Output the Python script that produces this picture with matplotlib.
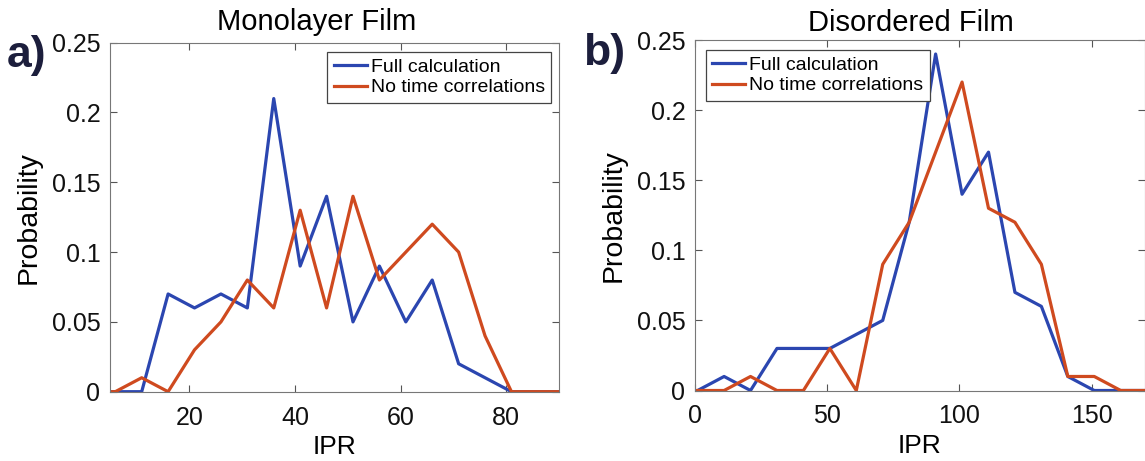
import matplotlib
matplotlib.use("Agg")
import matplotlib.pyplot as plt
from matplotlib.ticker import FuncFormatter

plt.rcParams['font.family'] = ['Liberation Sans', 'DejaVu Sans']

# ---- data ----
ipr_a = [1, 6, 11, 16, 21, 26, 31, 36, 41, 46, 51, 56, 61, 66, 71, 76, 81, 86, 91]
full_a = [0, 0, 0, 0.07, 0.06, 0.07, 0.06, 0.21, 0.09, 0.14, 0.05, 0.09, 0.05, 0.08, 0.02, 0.01, 0, 0, 0]
notc_a = [0, 0, 0.01, 0, 0.03, 0.05, 0.08, 0.06, 0.13, 0.06, 0.14, 0.08, 0.10, 0.12, 0.10, 0.04, 0, 0, 0]

ipr_b = [1, 11, 21, 31, 41, 51, 61, 71, 81, 91, 101, 111, 121, 131, 141, 151, 161, 171]
full_b = [0, 0.01, 0, 0.03, 0.03, 0.03, 0.04, 0.05, 0.12, 0.24, 0.14, 0.17, 0.07, 0.06, 0.01, 0, 0, 0]
notc_b = [0, 0, 0.01, 0, 0, 0.03, 0, 0.09, 0.12, 0.17, 0.22, 0.13, 0.12, 0.09, 0.01, 0.01, 0, 0]

series_labels = ["Full calculation", "No time correlations"]
titles = ["Monolayer Film", "Disordered Film"]
panel_labels = ["a)", "b)"]
xticks_a = [20, 40, 60, 80]
xticks_b = [0, 50, 100, 150]
yticks = [0, 0.05, 0.1, 0.15, 0.2, 0.25]

BLUE = "#2b46b0"
RED = "#cf4a1f"
W, H = 1145, 461

fig = plt.figure(figsize=(W / 100, H / 100), dpi=100)
fig.patch.set_facecolor("white")

ax1 = fig.add_axes([110 / W, (H - 391.7) / H, 449 / W, 349 / H])
ax2 = fig.add_axes([695 / W, (H - 390.5) / H, 449.5 / W, 350.5 / H])

fmt = FuncFormatter(lambda v, p: ("%g" % round(v, 4)))


def draw(ax, x, yb, yr):
    ax.plot(x, yb, color=BLUE, lw=2.3, label=series_labels[0])
    ax.plot(x, yr, color=RED, lw=2.3, label=series_labels[1])


draw(ax1, ipr_a, full_a, notc_a)
draw(ax2, ipr_b, full_b, notc_b)

for ax, xlim, xt in [(ax1, (5, 90), xticks_a), (ax2, (0, 170), xticks_b)]:
    ax.set_xlim(*xlim)
    ax.set_ylim(0, 0.25)
    ax.set_xticks(xt)
    ax.set_yticks(yticks)
    ax.yaxis.set_major_formatter(fmt)
    ax.tick_params(direction="in", length=5, width=0.8, color="#555555",
                   top=True, right=True, labelsize=18, labelcolor="#111111")
    ax.tick_params(axis="x", pad=10)
    ax.tick_params(axis="y", pad=7)
    for s in ax.spines.values():
        s.set_color("#777777")
        s.set_linewidth(0.8)
    ax.set_xlabel("IPR", fontsize=19, labelpad=4)
    ax.set_ylabel("Probability", fontsize=20.5, labelpad=7)

leg_kw = dict(fontsize=14, frameon=True, fancybox=False, framealpha=1,
              edgecolor="#444444", handlelength=1.7, handletextpad=0.2,
              labelspacing=0.15, borderpad=0.32, borderaxespad=0)
l1 = ax1.legend(loc="upper right", bbox_to_anchor=(551 / W, (H - 52) / H),
                bbox_transform=fig.transFigure, **leg_kw)
l2 = ax2.legend(loc="upper left", bbox_to_anchor=(706 / W, (H - 50) / H),
                bbox_transform=fig.transFigure, **leg_kw)
for l in (l1, l2):
    l.get_frame().set_linewidth(0.9)

fig.text(317 / W, (H - 30) / H, titles[0], fontsize=21, ha="center", va="baseline")
fig.text(911 / W, (H - 31) / H, titles[1], fontsize=21, ha="center", va="baseline")
fig.text(7 / W, (H - 56) / H, panel_labels[0], fontsize=32, fontweight="bold",
         color="#1c1e3c", ha="left", va="center")
fig.text(583 / W, (H - 54) / H, panel_labels[1], fontsize=32, fontweight="bold",
         color="#1c1e3c", ha="left", va="center")

fig.savefig("out.png", dpi=100)
